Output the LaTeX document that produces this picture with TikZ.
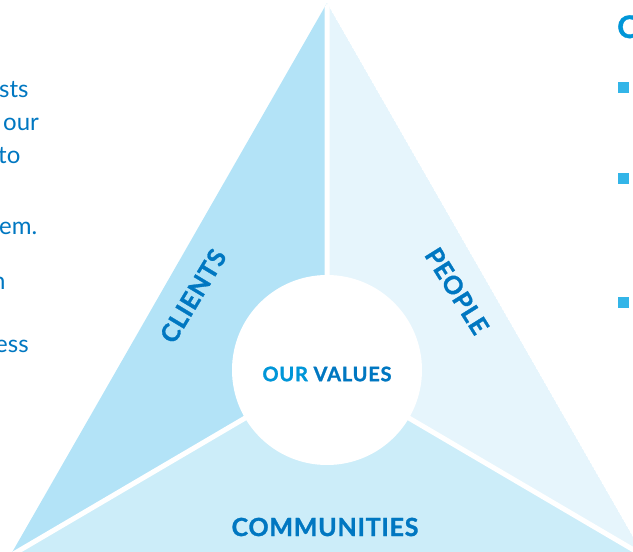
\documentclass[tikz,border=0pt]{standalone}
\usepackage{fontspec}
\setmainfont{Lato}[BoldFeatures={FakeBold=1.2}]
\definecolor{clientsbg}{HTML}{B3E3F7}
\definecolor{peoplebg}{HTML}{E6F5FC}
\definecolor{commbg}{HTML}{CCEDF9}
\definecolor{darkblue}{HTML}{0077C1}
\definecolor{brightblue}{HTML}{0096D8}
\definecolor{bulletblue}{HTML}{33B5E8}
\tikzset{
  bodytext/.style={font=\fontsize{24}{28}\selectfont, text=darkblue, inner sep=0pt},
  seglabel/.style={font=\fontsize{25}{29}\selectfont\bfseries\addfontfeature{LetterSpace=3}, text=darkblue, inner sep=0pt},
  bulletsq/.style={fill=bulletblue, minimum size=11pt, inner sep=0pt, draw=none},
  sepline/.style={white, line width=5pt}
}
\begin{document}
\begin{tikzpicture}[x=1pt,y=-1pt]
\useasboundingbox (0,0) rectangle (633,552);
\coordinate (A) at (327,3);
\coordinate (L) at (10,556);
\coordinate (R) at (644,556);
\coordinate (C) at (327,370);
\begin{scope}
\clip (A) -- (L) -- (R) -- cycle;
\fill[clientsbg] (A) -- (L) -- (C) -- cycle;
\fill[peoplebg] (A) -- (C) -- (R) -- cycle;
\fill[commbg] (L) -- (R) -- (C) -- cycle;
\draw[sepline] (A) -- (C) (L) -- (C) -- (R);
\end{scope}
\fill[white] (C) circle[radius=95pt];
\node[seglabel, rotate=59] (clients) at (193,296) {CLIENTS};
\node[seglabel, rotate=-58] (people) at (457,291) {PEOPLE};
\node[seglabel] (comm) at (325,527) {COMMUNITIES};
\node[font=\fontsize{20}{23}\selectfont\bfseries\addfontfeature{LetterSpace=4}, text=darkblue, inner sep=0pt] (values) at (327,374) {\textcolor{brightblue}{OUR} VALUES};
\node[bodytext, anchor=base west] (l1) at (-1,97) {sts};
\node[bodytext, anchor=base west] (l2) at (3,130) {our};
\node[bodytext, anchor=base west] (l3) at (-2,163) {to};
\node[bodytext, anchor=base west] (l4) at (-1,234) {em.};
\node[bodytext, anchor=base west] (l5) at (-8,289) {n};
\node[bodytext, anchor=base west] (l6) at (-5,352) {ess};
\node[font=\fontsize{31}{34}\selectfont\bfseries, text=brightblue, inner sep=0pt, anchor=base west] (head) at (617,38) {O};
\node[bulletsq] (b1) at (623.5,87) {};
\node[bulletsq] (b2) at (623.5,178) {};
\node[bulletsq] (b3) at (623.5,302) {};
\end{tikzpicture}
\end{document}
